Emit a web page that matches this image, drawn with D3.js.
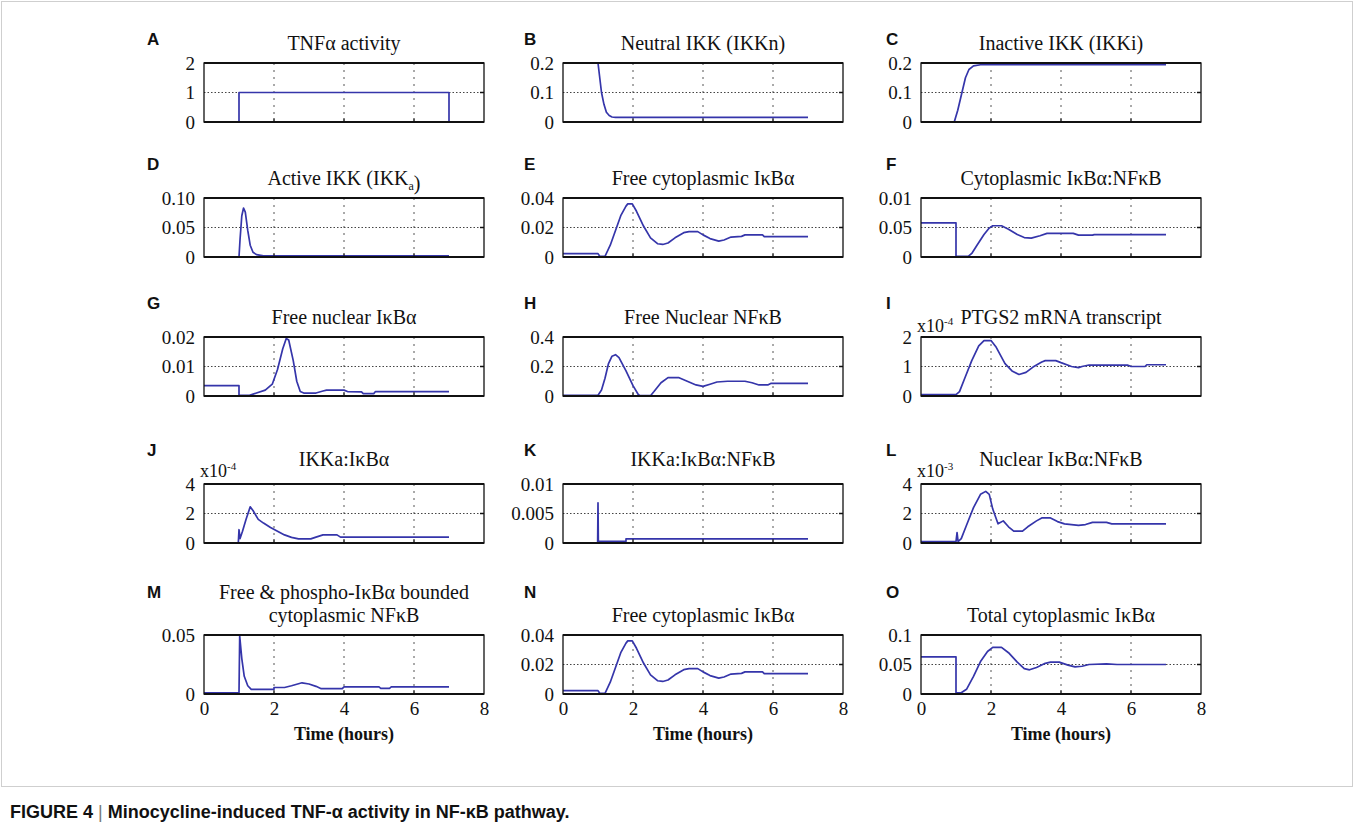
<!DOCTYPE html>
<html>
<head>
<meta charset="utf-8">
<script src="https://cdn.jsdelivr.net/npm/d3@7"></script>
<style>
  body { margin: 0; background: #fff; }
  text { fill: #111; }
</style>
</head>
<body>
<svg id="fig" width="1355" height="835"></svg>
<script>
// time axis (hours)
const timeDomain = [0, 8];
const timeTicks = [0, 2, 4, 6, 8];
const gridTimes = [2, 4, 6];

// series, [time, value]
const tnfActivity = [[0,0],[1,0],[1,1],[7,1],[7,0]];
const ikkNeutral = [[0,0.2],[1.0,0.2],[1.05,0.15],[1.1,0.1],[1.17,0.06],[1.24,0.033],[1.32,0.022],[1.4,0.017],[1.5,0.016],[7,0.016]];
const ikkInactive = [[0,0],[0.95,0],[1.05,0.04],[1.17,0.1],[1.27,0.15],[1.37,0.178],[1.5,0.19],[1.7,0.194],[7,0.194]];
const ikkActive = [[0,0],[1.0,0],[1.03,0.03],[1.08,0.07],[1.13,0.083],[1.18,0.076],[1.25,0.045],[1.32,0.02],[1.4,0.008],[1.5,0.004],[1.7,0.002],[7,0.002]];
const freeCytoIkba = [[0,0.0023],[1.0,0.0023],[1.05,0.0005],[1.2,0.0005],[1.35,0.008],[1.5,0.018],[1.65,0.028],[1.8,0.0345],[1.85,0.036],[1.98,0.036],[2.1,0.031],[2.3,0.021],[2.5,0.013],[2.7,0.009],[2.85,0.0085],[3.0,0.0095],[3.2,0.013],[3.45,0.0165],[3.6,0.0172],[3.85,0.0172],[4.0,0.015],[4.2,0.0125],[4.45,0.0108],[4.6,0.0115],[4.8,0.0135],[5.1,0.014],[5.2,0.015],[5.7,0.015],[5.75,0.0138],[7,0.0138]];
const cytoIkbaNfkb = [[0,0.058],[1.0,0.058],[1.0,0.001],[1.35,0.001],[1.45,0.006],[1.6,0.02],[1.8,0.038],[1.95,0.049],[2.05,0.053],[2.3,0.053],[2.5,0.047],[2.75,0.038],[2.95,0.033],[3.15,0.032],[3.4,0.036],[3.6,0.04],[4.35,0.04],[4.5,0.037],[4.9,0.037],[4.95,0.038],[7,0.038]];
const freeNucIkba = [[0,0.0035],[1.0,0.0035],[1.0,0.0002],[1.3,0.0002],[1.5,0.001],[1.75,0.002],[1.95,0.004],[2.1,0.009],[2.25,0.016],[2.35,0.0195],[2.42,0.019],[2.55,0.012],[2.65,0.005],[2.75,0.0015],[2.85,0.001],[3.2,0.001],[3.4,0.0017],[3.5,0.002],[4.0,0.002],[4.1,0.0015],[4.5,0.0014],[4.55,0.0008],[4.85,0.0008],[4.9,0.0015],[7,0.0015]];
const freeNucNfkb = [[0,0.005],[1.0,0.005],[1.1,0.04],[1.2,0.12],[1.3,0.22],[1.4,0.27],[1.5,0.28],[1.6,0.26],[1.8,0.17],[2.0,0.07],[2.15,0.01],[2.2,0.002],[2.5,0.002],[2.6,0.03],[2.8,0.09],[3.0,0.125],[3.3,0.125],[3.5,0.105],[3.8,0.075],[4.0,0.065],[4.2,0.08],[4.4,0.095],[4.7,0.1],[5.2,0.1],[5.4,0.09],[5.6,0.075],[5.85,0.075],[5.95,0.086],[7,0.086]];
const ptgs2Mrna = [[0,0.05],[1.0,0.05],[1.1,0.15],[1.25,0.6],[1.45,1.2],[1.65,1.7],[1.8,1.88],[2.0,1.88],[2.15,1.65],[2.4,1.1],[2.6,0.85],[2.8,0.73],[3.0,0.8],[3.2,0.98],[3.45,1.15],[3.55,1.2],[3.85,1.2],[4.0,1.13],[4.3,1.0],[4.5,0.96],[4.6,1.0],[4.8,1.05],[5.9,1.05],[6.0,1.0],[6.4,1.0],[6.45,1.06],[7,1.06]];
const ikkaIkba = [[0,0],[0.98,0],[1.0,0.9],[1.03,0.3],[1.1,0.8],[1.2,1.6],[1.32,2.45],[1.4,2.2],[1.55,1.6],[1.7,1.35],[1.9,1.05],[2.1,0.8],[2.3,0.55],[2.5,0.38],[2.7,0.28],[3.05,0.28],[3.2,0.4],[3.4,0.55],[3.8,0.55],[3.9,0.4],[7,0.4]];
const ikkaIkbaNfkb = [[0,0],[0.99,0],[1.0,0.0068],[1.01,0.0003],[1.8,0.0003],[1.8,0.0007],[7,0.0007]];
const nucIkbaNfkb = [[0,0.1],[1.0,0.1],[1.03,0.7],[1.06,0.1],[1.15,0.3],[1.3,1.2],[1.5,2.4],[1.7,3.3],[1.85,3.5],[1.95,3.3],[2.05,2.3],[2.2,1.3],[2.35,1.5],[2.5,1.1],[2.65,0.8],[2.9,0.8],[3.05,1.1],[3.3,1.5],[3.45,1.7],[3.7,1.7],[3.9,1.45],[4.1,1.3],[4.5,1.2],[4.7,1.25],[4.9,1.4],[5.3,1.4],[5.45,1.3],[7,1.3]];
const boundCytoNfkb = [[0,0.001],[1.0,0.001],[1.02,0.049],[1.08,0.03],[1.15,0.015],[1.25,0.007],[1.35,0.004],[2.0,0.004],[2.0,0.0055],[2.3,0.0055],[2.5,0.007],[2.8,0.0095],[3.0,0.0085],[3.2,0.0065],[3.35,0.0045],[3.95,0.0045],[4.0,0.006],[5.0,0.006],[5.05,0.0048],[5.3,0.0048],[5.35,0.006],[7,0.006]];
const totalCytoIkba = [[0,0.063],[1.0,0.063],[1.0,0.002],[1.15,0.002],[1.3,0.008],[1.5,0.03],[1.7,0.055],[1.9,0.072],[2.05,0.079],[2.3,0.079],[2.5,0.07],[2.75,0.054],[2.95,0.043],[3.1,0.041],[3.3,0.045],[3.55,0.052],[3.7,0.054],[3.95,0.054],[4.2,0.049],[4.4,0.046],[4.6,0.047],[4.8,0.05],[5.3,0.051],[5.6,0.05],[7,0.05]];

// panel letters, titles ({x} = subscript), y ticks
const letters = ["A","B","C","D","E","F","G","H","I","J","K","L","M","N","O"];
const titles = [
  ["TNFα activity"], ["Neutral IKK (IKKn)"], ["Inactive IKK (IKKi)"],
  ["Active IKK (IKK{a})"], ["Free cytoplasmic IκBα"], ["Cytoplasmic IκBα:NFκB"],
  ["Free nuclear IκBα"], ["Free Nuclear NFκB"], ["PTGS2 mRNA transcript"],
  ["IKKa:IκBα"], ["IKKa:IκBα:NFκB"], ["Nuclear IκBα:NFκB"],
  ["Free & phospho-IκBα bounded", "cytoplasmic NFκB"], ["Free cytoplasmic IκBα"], ["Total cytoplasmic IκBα"]
];
const series = [tnfActivity, ikkNeutral, ikkInactive, ikkActive, freeCytoIkba, cytoIkbaNfkb,
  freeNucIkba, freeNucNfkb, ptgs2Mrna, ikkaIkba, ikkaIkbaNfkb, nucIkbaNfkb,
  boundCytoNfkb, freeCytoIkba, totalCytoIkba];
const yTicks = [
  [0,1,2],[0,0.1,0.2],[0,0.1,0.2],
  [0,0.05,0.1],[0,0.02,0.04],[0,0.05,0.1],
  [0,0.01,0.02],[0,0.2,0.4],[0,1,2],
  [0,2,4],[0,0.005,0.01],[0,2,4],
  [0,0.05],[0,0.02,0.04],[0,0.05,0.1]
];
const yTickLabels = [
  ["0","1","2"],["0","0.1","0.2"],["0","0.1","0.2"],
  ["0","0.05","0.10"],["0","0.02","0.04"],["0","0.05","0.01"],
  ["0","0.01","0.02"],["0","0.2","0.4"],["0","1","2"],
  ["0","2","4"],["0","0.005","0.01"],["0","2","4"],
  ["0","0.05"],["0","0.02","0.04"],["0","0.05","0.1"]
];
const exponents = {8: "-4", 9: "-4", 11: "-3"};

const svg = d3.select("#fig");
const serif = "'Liberation Serif', 'Times New Roman', serif";
const sans = "'Liberation Sans', Arial, sans-serif";
const blue = "#3535aa";

svg.append("rect")
  .attr("x", 1.5).attr("y", 1.5)
  .attr("width", 1351).attr("height", 785)
  .attr("fill", "none").attr("stroke", "#cfcfcf");

const colLeft = [204, 563, 921];
const plotW = 280;
const rowTop = [63, 198, 337, 484, 635];
const plotH = 59;

series.forEach((data, i) => {
  const col = i % 3, row = Math.floor(i / 3);
  const L = colLeft[col], T = rowTop[row];
  const ticks = yTicks[i];
  const x = d3.scaleLinear().domain(timeDomain).range([L, L + plotW]);
  const y = d3.scaleLinear().domain([0, ticks[ticks.length - 1]]).range([T + plotH, T]);
  const g = svg.append("g");

  // dotted grid
  g.selectAll(".vg").data(gridTimes).join("line")
    .attr("x1", d => x(d)).attr("x2", d => x(d))
    .attr("y1", T).attr("y2", T + plotH)
    .attr("stroke", "#555").attr("stroke-width", 1)
    .attr("stroke-dasharray", "2,5");
  if (ticks.length === 3) {
    g.append("line")
      .attr("x1", L).attr("x2", L + plotW)
      .attr("y1", y(ticks[1])).attr("y2", y(ticks[1]))
      .attr("stroke", "#444").attr("stroke-width", 1.2)
      .attr("stroke-dasharray", "1.5,2");
  }

  // series line
  g.append("path")
    .datum(data)
    .attr("fill", "none")
    .attr("stroke", blue)
    .attr("stroke-width", 1.7)
    .attr("stroke-linejoin", "round")
    .attr("d", d3.line().x(d => x(d[0])).y(d => y(d[1])));

  // axes box
  g.append("rect")
    .attr("x", L).attr("y", T).attr("width", plotW).attr("height", plotH)
    .attr("fill", "none").attr("stroke", "#111").attr("stroke-width", 1.3);
  [T, T + plotH].forEach(yy => g.append("line")
    .attr("x1", L).attr("x2", L + plotW).attr("y1", yy).attr("y2", yy)
    .attr("stroke", "#111").attr("stroke-width", 2));

  // inward tick marks
  g.selectAll(".tk").data(gridTimes).join("line")
    .attr("x1", d => x(d)).attr("x2", d => x(d))
    .attr("y1", T + plotH).attr("y2", T + plotH - 4)
    .attr("stroke", "#111");
  g.selectAll(".tr").data(ticks.slice(1, -1)).join("line")
    .attr("x1", L + plotW).attr("x2", L + plotW - 4)
    .attr("y1", d => y(d)).attr("y2", d => y(d))
    .attr("stroke", "#111").attr("stroke-width", 1.5);

  // y axis labels
  const yAxis = d3.axisLeft(y).tickValues(ticks)
    .tickFormat((d, j) => yTickLabels[i][j])
    .tickSize(0).tickPadding(9);
  const ya = g.append("g").attr("transform", `translate(${L},0)`).call(yAxis);
  ya.select(".domain").remove();
  ya.selectAll("text").style("font-family", serif).style("font-size", "19px").attr("fill", "#111");

  // x axis labels on bottom row
  if (row === 4) {
    const xAxis = d3.axisBottom(x).tickValues(timeTicks).tickSize(0).tickPadding(8);
    const xa = g.append("g").attr("transform", `translate(0,${T + plotH})`).call(xAxis);
    xa.select(".domain").remove();
    xa.selectAll("text").style("font-family", serif).style("font-size", "19px").attr("fill", "#111");
    g.append("text")
      .attr("x", L + plotW / 2).attr("y", T + plotH + 46)
      .attr("text-anchor", "middle")
      .style("font-family", serif).style("font-size", "18px").style("font-weight", "bold")
      .text("Time (hours)");
  }

  // title
  const lines = titles[i];
  const titleBase = row === 3 ? T - 18 : T - 13;
  lines.forEach((ln, k) => {
    const t = g.append("text")
      .attr("x", L + plotW / 2)
      .attr("y", titleBase - (lines.length - 1 - k) * 23)
      .attr("text-anchor", "middle")
      .style("font-family", serif).style("font-size", "20px");
    ln.split(/(\{[^}]*\})/).filter(s => s).forEach(s => {
      if (s.startsWith("{")) {
        t.append("tspan").attr("dy", 5).style("font-size", "12px").text(s.slice(1, -1));
        t.append("tspan").attr("dy", -5).text("");
      } else {
        t.append("tspan").text(s);
      }
    });
  });

  // exponent label
  if (exponents[i]) {
    const ex = g.append("text")
      .attr("x", L - 4).attr("y", row === 3 ? T - 7 : T - 5)
      .style("font-family", serif).style("font-size", "18px");
    ex.append("tspan").text("x10");
    ex.append("tspan").attr("dy", -7).style("font-size", "11px").text(exponents[i]);
  }

  // panel letter
  g.append("text")
    .attr("x", col === 0 ? 147 : col === 1 ? 524 : 886)
    .attr("y", row === 0 ? T - 18 : row === 4 ? T - 37 : T - 28)
    .style("font-family", sans).style("font-size", "17px").style("font-weight", "bold")
    .text(letters[i]);
});

// caption
const cap = svg.append("text")
  .attr("x", 10).attr("y", 818)
  .style("font-family", sans).style("font-size", "18px").style("font-weight", "bold");
cap.append("tspan").text("FIGURE 4 ");
cap.append("tspan").style("font-weight", "normal").attr("fill", "#777").text("|");
cap.append("tspan").text(" Minocycline-induced TNF-α activity in NF-κB pathway.");
</script>
</body>
</html>
